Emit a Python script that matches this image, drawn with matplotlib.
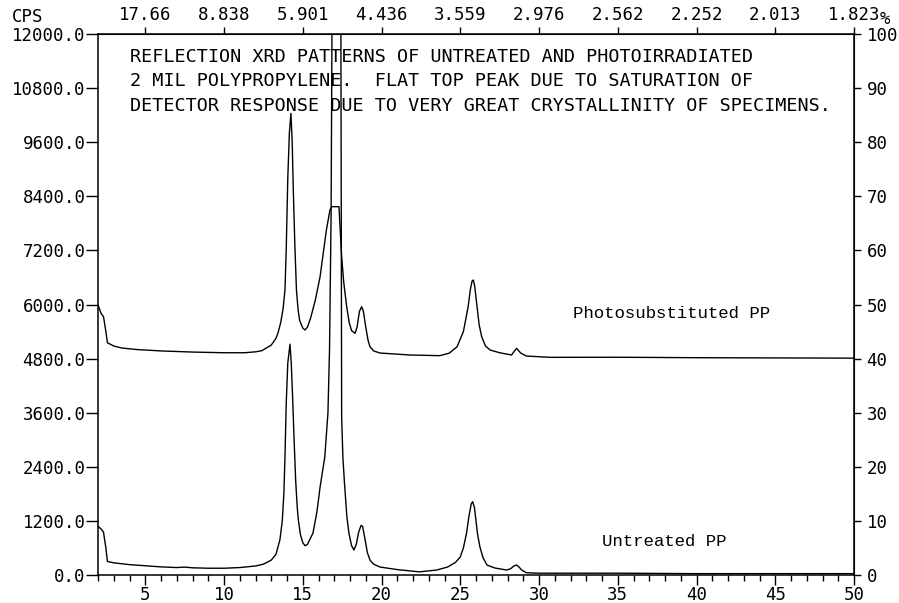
import matplotlib
matplotlib.use("Agg")
import matplotlib.pyplot as plt
from matplotlib.ticker import FixedLocator, MultipleLocator

# ---------------- data ----------------
two_theta_untreated = [2.0, 2.2, 2.35, 2.5, 2.6, 3.0, 4.0, 5.0, 6.0, 7.0, 7.5, 8.0, 9.0, 10.0,
                       11.0, 12.0, 12.5, 13.0, 13.3, 13.55, 13.7, 13.8, 13.87, 13.95, 14.05,
                       14.19, 14.27, 14.35, 14.45, 14.55, 14.65, 14.72, 14.85, 15.0, 15.14,
                       15.3, 15.65, 15.9, 16.1, 16.4, 16.6, 16.7, 16.8, 16.86, 17.42, 17.47,
                       17.55, 17.65, 17.8, 17.93, 18.1, 18.25, 18.4, 18.55, 18.7, 18.8, 18.95,
                       19.1, 19.27, 19.5, 19.9, 21.0, 22.4, 23.5, 24.2, 24.7, 25.0, 25.2,
                       25.4, 25.55, 25.7, 25.79, 25.9, 26.0, 26.1, 26.25, 26.45, 26.7, 27.2,
                       27.95, 28.2, 28.4, 28.58, 28.75, 28.9, 29.2, 30.0, 35.0, 40.0, 45.0,
                       50.0]
cps_untreated = [1080, 1020, 950, 600, 300, 270, 230, 205, 180, 165, 175, 160, 150, 150,
                 165, 200, 240, 330, 460, 780, 1200, 1800, 2600, 3800, 4700,
                 5120, 4700, 4000, 3000, 2100, 1500, 1220, 900, 720, 650,
                 680, 930, 1400, 1950, 2620, 3600, 5000, 8000, 12500, 12500, 3500,
                 2600, 2040, 1300, 930, 650, 555, 680, 950, 1100, 1080, 800,
                 500, 330, 240, 177, 120, 70, 110, 177, 280, 400, 600,
                 930, 1300, 1580, 1625, 1500, 1200, 900, 620, 380, 220, 155,
                 110, 140, 200, 222, 170, 110, 50, 40, 40, 30, 30,
                 30]

two_theta_photo = [2.0, 2.2, 2.35, 2.5, 2.6, 3.0, 3.5, 4.5, 6.0, 8.0, 10.0, 11.3, 12.0, 12.4,
                   13.0, 13.3, 13.43, 13.6, 13.75, 13.87, 13.95, 14.05, 14.15, 14.25, 14.33,
                   14.4, 14.5, 14.6, 14.7, 14.8, 15.0, 15.14, 15.3, 15.5, 15.8, 16.1, 16.5,
                   16.73, 16.84, 17.3, 17.47, 17.6, 17.79, 17.95, 18.1, 18.32, 18.45, 18.6,
                   18.74, 18.85, 19.0, 19.15, 19.27, 19.5, 19.9, 21.8, 23.7, 24.3, 24.8,
                   25.2, 25.5, 25.65, 25.75, 25.83, 25.92, 26.05, 26.2, 26.36, 26.6, 26.9,
                   27.5, 28.26, 28.42, 28.58, 28.72, 28.85, 29.2, 30.7, 35.0, 40.0, 45.0,
                   50.0]
cps_photo = [5990, 5800, 5730, 5400, 5150, 5080, 5035, 5000, 4970, 4945, 4930, 4930, 4950, 4975,
             5100, 5250, 5370, 5600, 5900, 6320, 7200, 8800, 9800, 10240, 9600,
             8540, 7300, 6320, 5900, 5650, 5480, 5434, 5500, 5700, 6100, 6617, 7650,
             8100, 8170, 8170, 7060, 6500, 5950, 5600, 5420, 5360, 5500, 5850,
             5950, 5850, 5500, 5200, 5064, 4970, 4924, 4880, 4865, 4920, 5064,
             5400, 5950, 6350, 6520, 6543, 6400, 6000, 5550, 5286, 5080, 4990,
             4930, 4880, 4960, 5028, 4970, 4920, 4857, 4828, 4830, 4820, 4815,
             4810]

left_ticks = [0, 1200, 2400, 3600, 4800, 6000, 7200, 8400, 9600, 10800, 12000]
bottom_ticks = [5, 10, 15, 20, 25, 30, 35, 40, 45, 50]
top_tick_pos = [5, 10, 15, 20, 25, 30, 35, 40, 45, 50]
top_tick_labels = ["17.66", "8.838", "5.901", "4.436", "3.559", "2.976",
                   "2.562", "2.252", "2.013", "1.823"]
right_ticks = [0, 10, 20, 30, 40, 50, 60, 70, 80, 90, 100]

note_lines = ["REFLECTION XRD PATTERNS OF UNTREATED AND PHOTOIRRADIATED",
              "2 MIL POLYPROPYLENE.  FLAT TOP PEAK DUE TO SATURATION OF",
              "DETECTOR RESPONSE DUE TO VERY GREAT CRYSTALLINITY OF SPECIMENS."]

# ---------------- figure ----------------
PLOT_FONT = "DejaVu Sans Mono"
TYPE_FONT = "Liberation Mono"
TICK_FS = 12.5

fig = plt.figure(figsize=(8.99, 6.03), dpi=100)
ax = fig.add_axes([98 / 899, 1 - 575 / 603, (854 - 98) / 899, (575 - 34) / 603])

ax.plot(two_theta_untreated, cps_untreated, color="black", lw=1.0)
ax.plot(two_theta_photo, cps_photo, color="black", lw=1.0)

ax.set_xlim(2, 50)
ax.set_ylim(0, 12000)

for s in ax.spines.values():
    s.set_linewidth(1.1)

# left axis
ax.yaxis.set_major_locator(FixedLocator(left_ticks))
ax.set_yticklabels([f"{v:.1f}" for v in left_ticks], family=PLOT_FONT, fontsize=TICK_FS)
ax.tick_params(axis="y", direction="out", length=9, width=1.0, pad=0)

# bottom axis
ax.xaxis.set_major_locator(FixedLocator(bottom_ticks))
ax.xaxis.set_minor_locator(MultipleLocator(1))
ax.set_xticklabels([str(v) for v in bottom_ticks], family=PLOT_FONT, fontsize=TICK_FS)
ax.tick_params(axis="x", which="major", direction="out", length=7, width=1.0, pad=1)
ax.tick_params(axis="x", which="minor", direction="out", length=4, width=1.0)

# top axis (d-spacing)
secx = ax.secondary_xaxis("top")
secx.xaxis.set_major_locator(FixedLocator(top_tick_pos))
secx.set_xticklabels(top_tick_labels, family=PLOT_FONT, fontsize=TICK_FS)
secx.tick_params(axis="x", direction="out", length=5, width=1.0, pad=2)

# right axis (%)
secy = ax.secondary_yaxis("right", functions=(lambda c: c / 120.0, lambda p: p * 120.0))
secy.yaxis.set_major_locator(FixedLocator(right_ticks))
secy.set_yticklabels([str(v) for v in right_ticks], family=PLOT_FONT, fontsize=TICK_FS)
secy.tick_params(axis="y", direction="out", length=5, width=1.0, pad=4)

# corner unit labels
fig.text(12 / 899, 1 - 17 / 603, "CPS", family=PLOT_FONT, fontsize=TICK_FS, va="center", ha="left")
fig.text(880 / 899, 1 - 19 / 603, "%", family=PLOT_FONT, fontsize=TICK_FS, va="center", ha="left")

# annotation block
for i, line in enumerate(note_lines):
    ax.text(4.03, 11489 - i * 540, line, family=PLOT_FONT, fontsize=13.3,
            va="center", ha="left")

ax.text(32.16, 5790, "Photosubstituted PP", family=TYPE_FONT, fontsize=12.5,
        va="center", ha="left")
ax.text(34.0, 754, "Untreated PP", family=TYPE_FONT, fontsize=12.5,
        va="center", ha="left")

fig.savefig("out.png", dpi=100)
